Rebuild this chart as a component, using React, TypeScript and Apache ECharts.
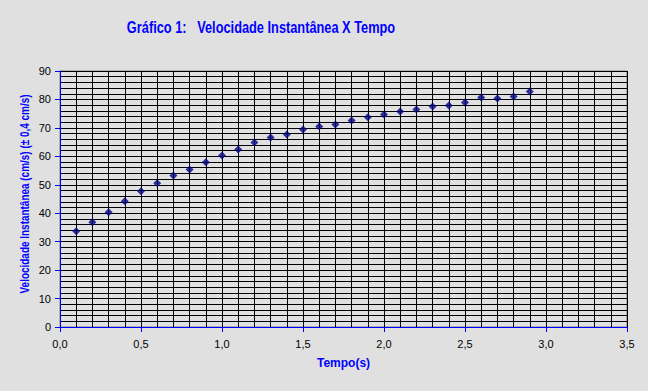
import React, { useEffect, useRef } from "react";
import * as echarts from "echarts";

const times = [0.1, 0.2, 0.3, 0.4, 0.5, 0.6, 0.7, 0.8, 0.9, 1.0, 1.1, 1.2, 1.3, 1.4, 1.5, 1.6, 1.7, 1.8, 1.9, 2.0, 2.1, 2.2, 2.3, 2.4, 2.5, 2.6, 2.7, 2.8, 2.9];
const velocities = [33.7, 36.8, 40.3, 44.2, 47.7, 50.5, 53.3, 55.4, 57.9, 60.3, 62.4, 64.9, 66.6, 67.7, 69.4, 70.5, 71.2, 72.6, 73.7, 74.7, 75.8, 76.5, 77.5, 77.9, 78.9, 80.7, 80.3, 81.0, 82.8];

const titleText = "Gráfico 1:\u00a0\u00a0\u00a0Velocidade Instantânea X Tempo";
const yName = "Velocidade Instantânea (cm/s) (± 0,4 cm/s)";
const xName = "Tempo(s)";

export default function App() {
  const ref = useRef<HTMLDivElement>(null);
  useEffect(() => {
    if (!ref.current) return;
    const chart = echarts.init(ref.current, undefined, { renderer: "svg" });
    const sans = "Arial, 'Liberation Sans', sans-serif";
    chart.setOption({
      animation: false,
      backgroundColor: "#E0E0E0",
      graphic: [
        {
          type: "text",
          x: 261,
          y: 27,
          scaleX: 0.8,
          style: {
            text: titleText,
            fill: "#0000FF",
            font: "bold 16px Arial, 'Liberation Sans', sans-serif",
            align: "center",
            verticalAlign: "middle",
          },
        },
        {
          type: "text",
          x: 25,
          y: 194,
          rotation: Math.PI / 2,
          scaleX: 0.83,
          style: {
            text: yName,
            fill: "#0000FF",
            font: "bold 12px Arial, 'Liberation Sans', sans-serif",
            align: "center",
            verticalAlign: "middle",
          },
        },
      ],
      grid: {
        left: 60,
        right: 21,
        top: 71,
        bottom: 64,
        show: true,
        backgroundColor: "#E0E0E0",
        borderColor: "#808080",
        borderWidth: 1,
      },
      xAxis: {
        type: "value",
        min: 0,
        max: 3.5,
        interval: 0.5,
        name: xName,
        nameLocation: "middle",
        nameGap: 30,
        nameTextStyle: { color: "#0000FF", fontSize: 12, fontWeight: "bold", fontFamily: sans },
        axisLine: { show: true, lineStyle: { color: "#0000FF", width: 1 } },
        axisTick: { show: true, length: 5, lineStyle: { color: "#0000FF" } },
        axisLabel: {
          color: "#000",
          fontSize: 11,
          fontFamily: sans,
          margin: 11,
          formatter: (v: number) => v.toFixed(1).replace(".", ","),
        },
        splitLine: { show: true, lineStyle: { color: "#000", width: 1 } },
        minorTick: { show: false, splitNumber: 5 },
        minorSplitLine: { show: true, lineStyle: { color: "#000", width: 1 } },
      },
      yAxis: {
        type: "value",
        min: 0,
        max: 90,
        interval: 10,
        axisLine: { show: true, lineStyle: { color: "#0000FF", width: 1 } },
        axisTick: { show: true, length: 5, lineStyle: { color: "#0000FF" } },
        axisLabel: { color: "#000", fontSize: 11, fontFamily: sans, margin: 9 },
        splitLine: { show: true, lineStyle: { color: "#000", width: 1 } },
        minorTick: { show: false, splitNumber: 5 },
        minorSplitLine: { show: true, lineStyle: { color: "#000", width: 1 } },
      },
      series: [
        {
          type: "scatter",
          data: times.map((t, i) => [t, velocities[i]]),
          symbol: "diamond",
          symbolSize: 8,
          itemStyle: { color: "#000080" },
        },
      ],
    });
    return () => chart.dispose();
  }, []);
  return <div ref={ref} style={{ width: 648, height: 391, position: "fixed", left: 0, top: 0 }} />;
}
